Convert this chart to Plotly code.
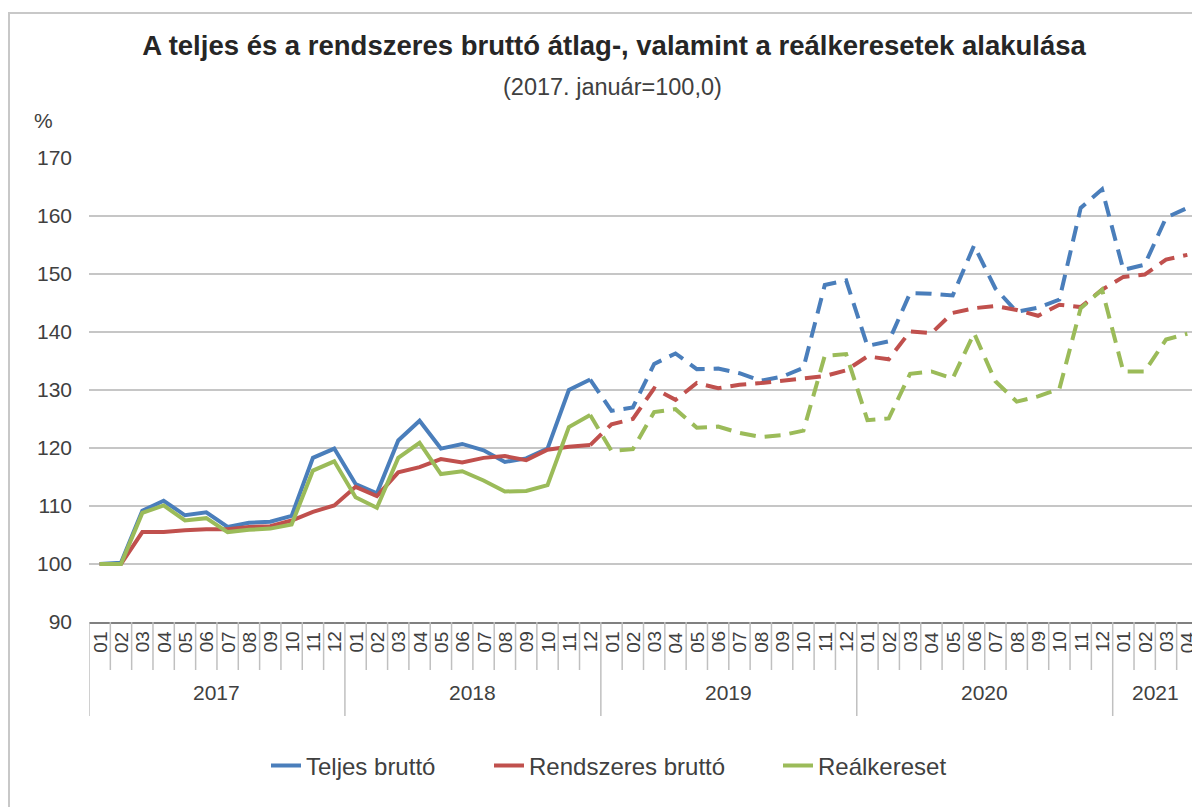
import plotly.graph_objects as go

years = ["2017", "2018", "2019", "2020", "2021"]
months_per_year = [12, 12, 12, 12, 4]
month_labels = (["01", "02", "03", "04", "05", "06", "07", "08", "09", "10", "11", "12"] * 4
                + ["01", "02", "03", "04"])

teljes = [100.0, 100.2, 109.2, 110.9, 108.4, 108.9, 106.4, 107.1, 107.3, 108.3, 118.3, 119.9,
          113.8, 112.2, 121.3, 124.7, 119.9, 120.7, 119.6, 117.6, 118.2, 119.9, 130.0, 131.8,
          126.4, 127.0, 134.5, 136.3, 133.6, 133.7, 132.9, 131.6, 132.3, 133.8, 148.1, 148.9,
          137.6, 138.4, 146.7, 146.6, 146.3, 154.9, 147.5, 143.5, 144.2, 145.6, 161.4, 164.6,
          150.7, 151.6, 159.7, 161.4]
rendszeres = [100.0, 100.0, 105.5, 105.5, 105.8, 106.0, 106.0, 106.4, 106.5, 107.5, 109.0, 110.1,
              113.3, 111.7, 115.8, 116.7, 118.1, 117.5, 118.3, 118.6, 117.9, 119.7, 120.2, 120.5,
              124.1, 125.0, 130.3, 128.3, 131.2, 130.3, 130.9, 131.2, 131.6, 132.0, 132.4, 133.4,
              135.8, 135.3, 140.1, 139.8, 143.3, 144.1, 144.5, 143.8, 142.8, 144.7, 144.3, 147.3,
              149.5, 149.9, 152.5, 153.3]
realkereset = [100.0, 100.0, 108.8, 110.1, 107.5, 107.9, 105.5, 105.9, 106.1, 106.8, 116.1, 117.7,
               111.5, 109.7, 118.3, 120.9, 115.5, 116.0, 114.4, 112.5, 112.6, 113.6, 123.6, 125.7,
               119.5, 119.8, 126.2, 126.7, 123.5, 123.7, 122.6, 121.9, 122.2, 123.0, 135.9, 136.2,
               124.8, 125.1, 132.8, 133.2, 132.0, 139.8, 131.5, 128.0, 128.9, 130.2, 144.1, 147.3,
               133.2, 133.2, 138.7, 139.7]

series = [
    ("Teljes bruttó", teljes, "#4A7EBB", "legend"),
    ("Rendszeres bruttó", rendszeres, "#C0504D", "legend2"),
    ("Reálkereset", realkereset, "#9BBB59", "legend3"),
]

solid_end = 24  # 2017-01 .. 2018-12 solid, the rest dashed
n = len(month_labels)
x_all = list(range(n))

# page offset of the figure (default body margin) and figure size
OFF = 8
FW, FH = 1200 - OFF, 807 - OFF
# plot-area geometry in page pixels
L, R, T, B = 89, 1198, 158, 622
PW, PH = R - L, B - T

def px(xp):
    return (xp - L) / PW

def py(yp):
    return (B - yp) / PH

fig = go.Figure()
for name, vals, color, lg in series:
    fig.add_trace(go.Scatter(x=x_all[:solid_end], y=vals[:solid_end], mode="lines", name=name,
                             line=dict(color=color, width=4), legend=lg, showlegend=True))
    fig.add_trace(go.Scatter(x=x_all[solid_end - 1:], y=vals[solid_end - 1:], mode="lines",
                             name=name, line=dict(color=color, width=4, dash="16px,9px"),
                             legend=lg, showlegend=False))

shapes = []
annotations = []
for i, lab in enumerate(month_labels):
    annotations.append(dict(x=i, y=py(642), xref="x", yref="paper", text=lab, textangle=-90,
                            showarrow=False, font=dict(size=19, color="#404040"),
                            xanchor="center", yanchor="middle"))
year_bounds = [-0.5]
for m in months_per_year:
    year_bounds.append(year_bounds[-1] + m)
for i in range(1, n):
    b = i - 0.5
    if b in year_bounds:
        continue
    shapes.append(dict(type="line", xref="x", yref="paper", x0=b, x1=b, y0=0, y1=py(670),
                       line=dict(color="#c0c0c0", width=1.5)))
for b in year_bounds:
    shapes.append(dict(type="line", xref="x", yref="paper", x0=b, x1=b, y0=0, y1=py(716),
                       line=dict(color="#c0c0c0", width=1.5)))
for k, yr in enumerate(years):
    c = (year_bounds[k] + year_bounds[k + 1]) / 2
    annotations.append(dict(x=c, y=py(692), xref="x", yref="paper", text=yr, showarrow=False,
                            font=dict(size=21, color="#404040"), xanchor="center", yanchor="middle"))

# outer frame
shapes.append(dict(type="rect", xref="paper", yref="paper", x0=px(9), x1=px(1240), y0=py(850),
                   y1=py(13), line=dict(color="#c8c8c8", width=2), layer="below"))

annotations.append(dict(x=px(612), y=py(87), xref="paper", yref="paper",
                        text="(2017. január=100,0)", showarrow=False,
                        font=dict(size=23.5, color="#404040"), xanchor="center", yanchor="middle"))
annotations.append(dict(x=px(32), y=py(120), xref="paper", yref="paper", text="%",
                        showarrow=False, font=dict(size=21, color="#404040"),
                        xanchor="left", yanchor="middle"))

leg_common = dict(orientation="h", yanchor="middle", xanchor="left", y=py(766),
                  font=dict(size=24, color="#404040"), bgcolor="rgba(0,0,0,0)", borderwidth=0)

fig.update_layout(
    width=FW, height=FH,
    margin=dict(l=L - OFF, r=FW - (R - OFF), t=T - OFF, b=FH - (B - OFF)),
    paper_bgcolor="white", plot_bgcolor="white",
    font=dict(family="Liberation Sans, Arial, sans-serif", color="#404040"),
    title=dict(text="<b>A teljes és a rendszeres bruttó átlag-, valamint a reálkeresetek alakulása</b>",
               x=(614 - OFF) / FW, xanchor="center", y=1 - (45 - OFF) / FH, yanchor="middle",
               xref="container", yref="container",
               font=dict(size=27.5, color="#262626")),
    xaxis=dict(range=[-0.5, n - 0.5], showticklabels=False, showgrid=False, zeroline=False,
               showline=True, linecolor="#808080", linewidth=2, ticks=""),
    yaxis=dict(range=[90, 170], dtick=10, tick0=90, showgrid=True, gridcolor="#c6c6c6",
               gridwidth=2, zeroline=False, showline=False, ticks="",
               ticklabelstandoff=16, tickfont=dict(size=21, color="#404040")),
    legend=dict(x=px(266), **leg_common),
    legend2=dict(x=px(489), **leg_common),
    legend3=dict(x=px(778), **leg_common),
    shapes=shapes,
    annotations=annotations,
)

fig.write_html("out.html")
